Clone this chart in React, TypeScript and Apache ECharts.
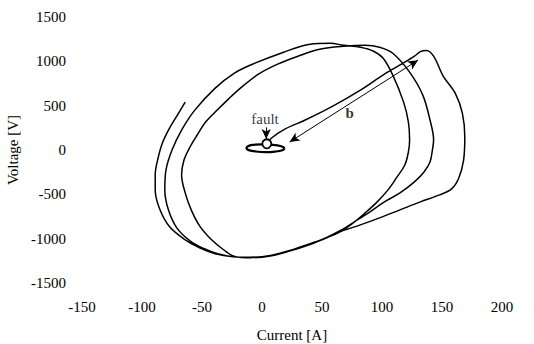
import React, { useEffect, useRef } from "react";
import * as echarts from "echarts";

// Axis ticks
const xTicks = [-150, -100, -50, 0, 50, 100, 150, 200];
const yTicks = [-1500, -1000, -500, 0, 500, 1000, 1500];

// Small loop at the fault instant [current A, voltage V]
const faultLoop: number[][] = [
  [19, 20], [16, 42], [9, 58], [0, 63], [-8, 58], [-12, 40], [-13, 20],
  [-11, -1], [-5, -17], [3, -24], [11, -18], [17, -2], [19, 20],
];

// Trajectory after the fault: first swing (outer right side, inner left side)
const firstSwing: number[][] = [
  [3, 56], [8, 135], [19, 236], [36, 338], [59, 495], [82, 675], [102, 855],
  [119, 990], [127, 1058], [132, 1110], [137, 1122], [143, 1058], [151, 833],
  [161, 641], [167, 413], [169, 146], [168, -113], [164, -315], [158, -439],
  [148, -506], [132, -585], [115, -675], [98, -765], [82, -844], [65, -923],
  [54, -990], [40, -1065], [23, -1140], [7, -1195], [-10, -1215],
  [-22, -1204], [-32, -1125], [-42, -1013], [-52, -855], [-59, -675],
  [-64, -484], [-67, -281], [-65, -113], [-60, 34], [-54, 169], [-47, 315],
  [-39, 428], [-28, 574], [-18, 698], [-3, 855], [13, 968], [30, 1058],
  [48, 1136], [68, 1170], [86, 1181], [98, 1159], [109, 1091], [123, 878],
  [134, 619], [140, 338], [143, 113],
];

// Second swing (middle right side, middle left side)
const secondSwing: number[][] = [
  [142, 0], [140, -135], [135, -248], [127, -360], [115, -484], [102, -585],
  [90, -698], [77, -810], [65, -911], [54, -985], [40, -1060], [23, -1138],
  [7, -1193], [-10, -1212], [-24, -1204], [-37, -1170], [-48, -1114],
  [-60, -1024], [-71, -878], [-78, -675], [-81, -450], [-80, -225], [-75, 0],
  [-67, 225], [-56, 450], [-39, 698], [-23, 866], [-10, 956], [18, 1103],
  [40, 1193], [57, 1204], [68, 1181], [82, 1159], [93, 1114], [101, 1035],
  [109, 844], [118, 540], [122, 315], [123, 113],
];

// Third swing (inner right side, outermost open left arc)
const thirdSwing: number[][] = [
  [122, -22], [119, -169], [112, -315], [105, -450], [96, -585], [86, -709],
  [75, -833], [65, -923], [54, -988], [40, -1056], [23, -1134], [7, -1190],
  [-10, -1210], [-24, -1204], [-39, -1170], [-52, -1103], [-64, -1013],
  [-77, -866], [-85, -675], [-89, -450], [-89, -281], [-87, -113], [-83, 79],
  [-77, 248], [-70, 405], [-64, 540],
];

// Annotations
const faultPoint: number[] = [4, 70];
const faultLabel: (number | string)[] = [2.5, 345, "fault"];
const faultArrow: number[][] = [[3.5, 255], [3.5, 125]];
const bLabel: (number | string)[] = [73, 416, "b"];
const bArrow: number[][] = [[23, 90], [130, 1013]];

const FONT = "Liberation Serif";

export default function App() {
  const ref = useRef<HTMLDivElement>(null);

  useEffect(() => {
    document.body.style.margin = "0";
    if (!ref.current) return;
    const chart = echarts.init(ref.current, undefined, { renderer: "svg" });
    const trajectory = [...firstSwing, ...secondSwing, ...thirdSwing];
    chart.setOption({
      animation: false,
      backgroundColor: "#ffffff",
      textStyle: { fontFamily: FONT, color: "#000" },
      grid: {
        left: 82,
        right: 32,
        top: 17,
        bottom: 61,
        containLabel: false,
        outerBoundsMode: "none",
      },
      xAxis: {
        type: "value",
        min: xTicks[0],
        max: xTicks[xTicks.length - 1],
        interval: 50,
        name: "Current [A]",
        nameLocation: "middle",
        nameGap: 44,
        nameTextStyle: { fontFamily: FONT, fontSize: 15, color: "#000" },
        axisLine: { show: false },
        axisTick: { show: false },
        splitLine: { show: false },
        axisLabel: {
          fontFamily: FONT,
          fontSize: 15,
          color: "#000",
          margin: 16,
          formatter: (v: number) => String(v),
        },
      },
      yAxis: {
        type: "value",
        min: yTicks[0],
        max: yTicks[yTicks.length - 1],
        interval: 500,
        name: "Voltage [V]",
        nameLocation: "middle",
        nameGap: 49,
        nameRotate: 90,
        nameTextStyle: { fontFamily: FONT, fontSize: 15, color: "#000" },
        axisLine: { show: false },
        axisTick: { show: false },
        splitLine: { show: false },
        axisLabel: {
          fontFamily: FONT,
          fontSize: 15,
          color: "#000",
          margin: 16,
          formatter: (v: number) => String(v),
        },
      },
      series: [
        {
          type: "line",
          data: trajectory,
          showSymbol: false,
          smooth: 0.35,
          lineStyle: { color: "#000", width: 1.5 },
          silent: true,
        },
        {
          type: "line",
          data: faultLoop,
          showSymbol: false,
          smooth: 0.4,
          lineStyle: { color: "#000", width: 2.2 },
          silent: true,
        },
        {
          type: "scatter",
          data: [faultPoint],
          symbol: "circle",
          symbolSize: 9,
          z: 10,
          itemStyle: { color: "#ffffff", borderColor: "#000000", borderWidth: 1.8, opacity: 1 },
          silent: true,
        },
        {
          type: "scatter",
          data: [
            { value: faultLabel },
            { value: bLabel, label: { fontWeight: "bold" } },
          ],
          symbolSize: 1,
          itemStyle: { color: "rgba(0,0,0,0)" },
          silent: true,
          label: {
            show: true,
            position: "inside",
            formatter: (p: any) => p.value[2],
            fontFamily: FONT,
            fontSize: 15,
            color: "#000",
          },
          markLine: {
            silent: true,
            symbol: ["arrow", "arrow"],
            symbolSize: [7, 10],
            label: { show: false },
            lineStyle: { color: "#000", width: 1, type: "solid" },
            data: [
              [{ coord: bArrow[0] }, { coord: bArrow[1] }],
              [
                { coord: faultArrow[0], symbol: "none" },
                { coord: faultArrow[1], symbol: "arrow" },
              ],
            ],
          },
        },
      ],
    });
    return () => chart.dispose();
  }, []);

  return <div ref={ref} style={{ width: 534, height: 344 }} />;
}
